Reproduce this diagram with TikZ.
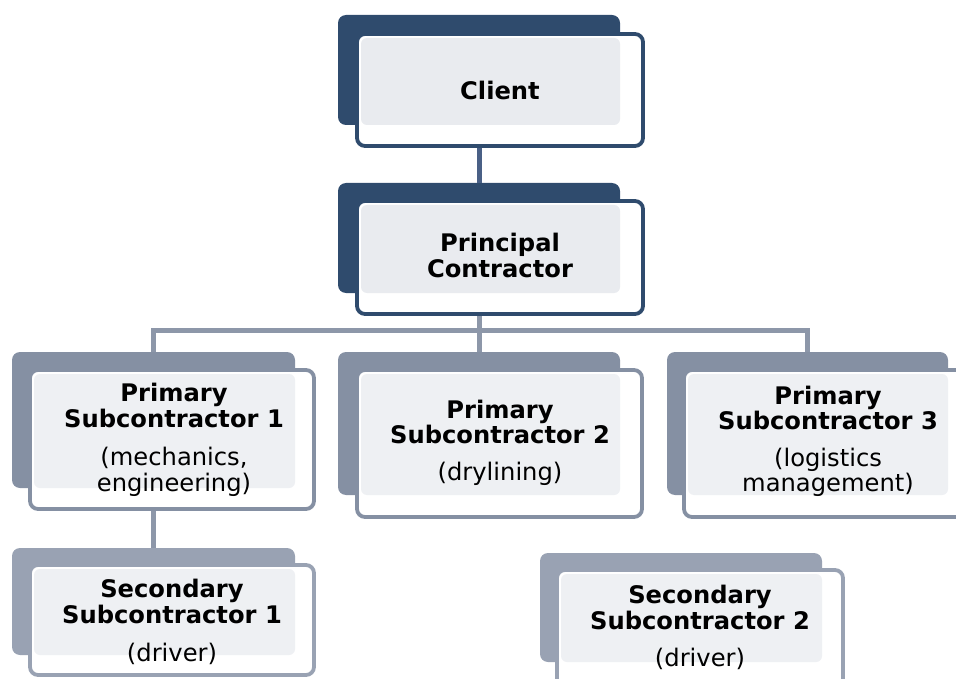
\documentclass[tikz,border=0pt]{standalone}
\usepackage{fontspec}
\setmainfont{DejaVu Sans}
\definecolor{topdark}{HTML}{2F4B6D}
\definecolor{toplink}{HTML}{4A6086}
\definecolor{midgrey}{HTML}{8590A3}
\definecolor{lowgrey}{HTML}{99A2B3}
\definecolor{linkgrey}{HTML}{8D97A9}
\definecolor{innertop}{HTML}{E9EBEF}
\definecolor{innerlow}{HTML}{EEF0F3}
\begin{document}
\begin{tikzpicture}[x=1pt, y=-1pt,
    backbox/.style={fill=#1, draw=none, rounded corners=8pt, inner sep=0pt, outer sep=0pt},
    framebox/.style={fill=white, draw=#1, line width=3.8pt, rounded corners=8pt, inner sep=0pt, outer sep=0pt},
    boxtext/.style={align=center, inner sep=0pt, font=\fontsize{24.2}{25.5}\selectfont},
    linkline/.style={draw=#1, line width=5pt}]
  \useasboundingbox (0,0) rectangle (956,679);

  %% --- back plates ---
  \node[backbox=topdark, minimum width=282pt, minimum height=110pt] (clientbk) at (479,70) {};
  \node[backbox=topdark, minimum width=282pt, minimum height=110pt] (principalbk) at (479,238) {};
  \node[backbox=midgrey, minimum width=283pt, minimum height=136pt] (primaryAbk) at (153.5,420) {};
  \node[backbox=midgrey, minimum width=282pt, minimum height=143pt] (primaryBbk) at (479,423.5) {};
  \node[backbox=midgrey, minimum width=281pt, minimum height=143pt] (primaryCbk) at (807.5,423.5) {};
  \node[backbox=lowgrey, minimum width=283pt, minimum height=107pt] (secondaryAbk) at (153.5,601.5) {};
  \node[backbox=lowgrey, minimum width=282pt, minimum height=109pt] (secondaryBbk) at (681,607.5) {};

  %% --- connectors (behind the frames) ---
  \coordinate (bus) at (0,330);
  \draw[linkline=toplink] (clientbk.south) -- (principalbk.north);
  \draw[linkline=linkgrey] (principalbk.south) -- (principalbk.south |- bus);
  \draw[linkline=linkgrey] (primaryAbk.north) |- (primaryCbk.north |- bus) -- (primaryCbk.north);
  \draw[linkline=linkgrey] (primaryBbk.north |- bus) -- (primaryBbk.north);
  \draw[linkline=linkgrey] (primaryAbk.south) -- (secondaryAbk.north);

  %% --- frames ---
  \node[framebox=topdark, minimum width=286pt, minimum height=112pt] (client) at (500,90) {};
  \node[framebox=topdark, minimum width=286pt, minimum height=113pt] (principal) at (500,257.5) {};
  \node[framebox=midgrey, minimum width=284pt, minimum height=139pt] (primaryA) at (172,439.5) {};
  \node[framebox=midgrey, minimum width=285pt, minimum height=147pt] (primaryB) at (499.5,443.5) {};
  \node[framebox=midgrey, minimum width=284pt, minimum height=147pt] (primaryC) at (826,443.5) {};
  \node[framebox=lowgrey, minimum width=284pt, minimum height=110pt] (secondaryA) at (172,620) {};
  \node[framebox=lowgrey, minimum width=286pt, minimum height=118pt] (secondaryB) at (700,629) {};

  %% --- light inner faces ---
  \fill[innertop, rounded corners=6pt] ([shift={(4pt,-4pt)}]client.north west) rectangle (clientbk.south east);
  \fill[innertop, rounded corners=6pt] ([shift={(4pt,-4pt)}]principal.north west) rectangle (principalbk.south east);
  \fill[innerlow, rounded corners=6pt] ([shift={(4pt,-4pt)}]primaryA.north west) rectangle (primaryAbk.south east);
  \fill[innerlow, rounded corners=6pt] ([shift={(4pt,-4pt)}]primaryB.north west) rectangle (primaryBbk.south east);
  \fill[innerlow, rounded corners=6pt] ([shift={(4pt,-4pt)}]primaryC.north west) rectangle (primaryCbk.south east);
  \fill[innerlow, rounded corners=6pt] ([shift={(4pt,-4pt)}]secondaryA.north west) rectangle (secondaryAbk.south east);
  \fill[innerlow, rounded corners=6pt] ([shift={(4pt,-4pt)}]secondaryB.north west) rectangle (secondaryBbk.south east);

  %% --- texts ---
  \node[boxtext] (clienttxt) at (500,90) {\textbf{Client}};
  \node[boxtext] (principaltxt) at (500,255.5) {\textbf{Principal}\\\textbf{Contractor}};
  \node[boxtext] (primaryAtxt) at (174,440) {\textbf{Primary}\\\textbf{Subcontractor 1}\\[13pt](mechanics,\\engineering)};
  \node[boxtext] (primaryBtxt) at (500,442.5) {\textbf{Primary}\\\textbf{Subcontractor 2}\\[11pt](drylining)};
  \node[boxtext] (primaryCtxt) at (828,441.5) {\textbf{Primary}\\\textbf{Subcontractor 3}\\[11pt](logistics\\management)};
  \node[boxtext] (secondaryAtxt) at (172,622) {\textbf{Secondary}\\\textbf{Subcontractor 1}\\[13pt](driver)};
  \node[boxtext] (secondaryBtxt) at (700,627.5) {\textbf{Secondary}\\\textbf{Subcontractor 2}\\[12pt](driver)};
\end{tikzpicture}
\end{document}
